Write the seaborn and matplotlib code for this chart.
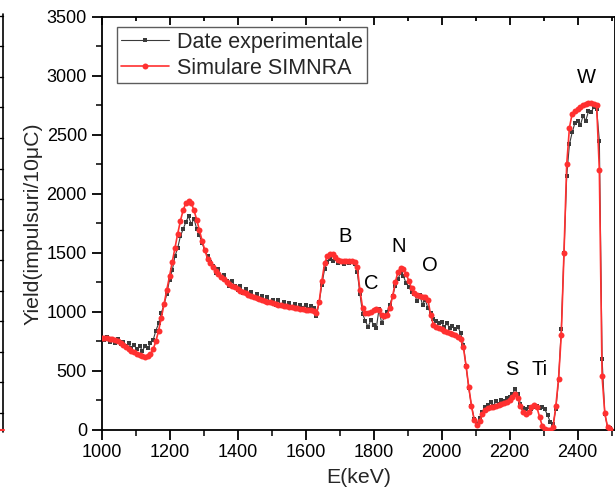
import numpy as np
import pandas as pd
import seaborn as sns
import matplotlib
matplotlib.use("Agg")
import matplotlib.pyplot as plt
from matplotlib.lines import Line2D
from matplotlib.ticker import MultipleLocator

# RBS spectrum: channel energies (keV) start at 1000 with an 8 keV step
E_START = 1000
E_STEP = 8

# Measured yield (counts / 10 uC)
experimental = [
    775, 760, 785, 740, 765, 735, 770, 725, 745, 705,
    730, 690, 715, 680, 710, 670, 705, 690, 730, 760,
    840, 900, 990, 1060, 1150, 1270, 1350, 1470, 1540, 1640,
    1700, 1760, 1810, 1740, 1790, 1700, 1650, 1580, 1520, 1470,
    1420, 1390, 1330, 1360, 1290, 1310, 1260, 1215, 1260, 1215,
    1180, 1220, 1160, 1190, 1140, 1170, 1120, 1150, 1105, 1135,
    1090, 1120, 1075, 1100, 1060, 1095, 1055, 1080, 1045, 1075,
    1040, 1065, 1030, 1060, 1035, 1060, 1020, 1050, 1030, 960,
    1080, 1230, 1360, 1420, 1445, 1430, 1450, 1410, 1430, 1400,
    1425, 1410, 1420, 1400, 1340, 1150, 980, 920, 870, 930,
    890, 860, 1020, 900, 960, 1000, 1060, 1130, 1220, 1280,
    1330, 1300, 1240, 1210, 1170, 1150, 1090, 1140, 1060, 1100,
    1030, 990, 940, 920, 900, 910, 870, 900, 860, 880,
    850, 870, 820, 720, 540, 350, 200, 90, 45, 100,
    150, 190, 210, 230, 200, 240, 220, 250, 240, 270,
    280, 300, 340, 300, 220, 180, 170, 190, 175, 195,
    200, 185, 190, 170, 120, 60, 50, 170, 420, 850,
    1500, 2150, 2420, 2520, 2600, 2620, 2580, 2660, 2620, 2700,
    2690, 2740, 2720, 2450, 600, 130, 25, 10,
]

# SIMNRA simulated yield
simulated = [
    780, 778, 775, 770, 765, 758, 748, 735, 720, 703,
    687, 670, 655, 641, 630, 622, 618, 622, 640, 680,
    750, 840, 950, 1065, 1185, 1300, 1420, 1540, 1660, 1770,
    1860, 1920, 1940, 1920, 1860, 1780, 1690, 1600, 1520, 1450,
    1410, 1375, 1345, 1318, 1295, 1275, 1255, 1237, 1220, 1205,
    1190, 1177, 1165, 1154, 1144, 1134, 1125, 1116, 1108, 1100,
    1092, 1085, 1078, 1072, 1066, 1060, 1055, 1050, 1045, 1040,
    1036, 1032, 1028, 1024, 1020, 1016, 1013, 1010, 1003, 990,
    1080, 1260, 1410, 1470, 1490, 1490, 1465, 1440, 1430, 1428,
    1430, 1432, 1432, 1425, 1380, 1180, 1030, 990, 985, 995,
    1010, 1025, 1010, 975, 960, 975, 1030, 1130, 1250, 1340,
    1370, 1360, 1320, 1260, 1200, 1160, 1140, 1130, 1125, 1120,
    1100, 970, 890, 870, 860, 850, 840, 830, 820, 810,
    800, 785, 765, 700, 540, 360, 200, 80, 35, 70,
    130, 165, 180, 190, 195, 200, 210, 215, 225, 235,
    250, 275, 300, 270, 200, 150, 135, 150, 190, 210,
    190, 110, 30, 5, 0, 0, 20, 200, 430, 800,
    1500, 2250, 2560, 2680, 2700, 2720, 2735, 2750, 2760, 2770,
    2770, 2765, 2750, 2200, 450, 140, 20, 8,
]

# Element edges labelled on the spectrum
element_labels = ["B", "C", "N", "O", "S", "Ti", "W"]
element_x = [1715, 1792, 1874, 1965, 2206, 2288, 2427]
element_y = [1640, 1235, 1555, 1395, 505, 505, 2985]

energy = E_START + E_STEP * np.arange(len(experimental))
df = pd.DataFrame({"E": energy, "exp": experimental, "sim": simulated})

sns.set_theme(style="ticks")
plt.rcParams["font.family"] = ["Liberation Sans", "DejaVu Sans"]

fig = plt.figure(figsize=(6.15, 4.94), dpi=100)
ax_h_px = 429.5 - 17
ax = fig.add_axes([101.5 / 615, 1 - 429.5 / 494, 1 - 101.5 / 615, ax_h_px / 494])

sns.lineplot(data=df, x="E", y="exp", ax=ax, color="#3a3a3a", lw=0.8,
             marker="s", markersize=3.0, markeredgewidth=0,
             label="Date experimentale", zorder=2)
sns.lineplot(data=df, x="E", y="sim", ax=ax, color="#ff3030", lw=1.2,
             marker="o", markersize=4.3, markeredgewidth=0,
             label="Simulare SIMNRA", zorder=3)

for lab, xv, yv in zip(element_labels, element_x, element_y):
    ax.text(xv, yv, lab, fontsize=14.5, ha="center", va="center", color="black")

ax.set_xlim(1000, 2510)
ax.set_ylim(0, 3500)
ax.xaxis.set_major_locator(MultipleLocator(200))
ax.xaxis.set_minor_locator(MultipleLocator(100))
ax.yaxis.set_major_locator(MultipleLocator(500))
ax.yaxis.set_minor_locator(MultipleLocator(250))

ax.set_xlabel("E(keV)", fontsize=15.3, labelpad=5)
ax.set_ylabel("Yield(impulsuri/10μC)", fontsize=15.3, labelpad=3)

for s in ax.spines.values():
    s.set_linewidth(1.3)
    s.set_color("black")
ax.tick_params(axis="both", which="major", direction="out", length=7, width=1.3,
               labelsize=13, colors="black")
ax.tick_params(axis="both", which="minor", direction="out", length=4, width=1.3)

# Inward tick marks along the top edge, at the same locator positions
xt = ax.get_xaxis_transform()
lo, hi = ax.get_xlim()
major_locs = [v for v in ax.xaxis.get_majorticklocs() if lo <= v <= hi]
minor_locs = [v for v in ax.xaxis.get_minorticklocs() if lo <= v <= hi]
ax.vlines(major_locs, 1 - 8 / ax_h_px, 1, transform=xt, colors="black",
          lw=1.3, clip_on=False, zorder=5)
ax.vlines(minor_locs, 1 - 4.5 / ax_h_px, 1, transform=xt, colors="black",
          lw=1.3, clip_on=False, zorder=5)

leg = ax.legend(loc="upper left", bbox_to_anchor=(0.03, 0.975), borderaxespad=0,
                fontsize=15.5, frameon=True, fancybox=False, handlelength=2.2,
                handletextpad=0.4, borderpad=0.2, labelspacing=0.25)
leg.get_frame().set_edgecolor("#333333")
leg.get_frame().set_linewidth(1.0)

# Edge of the neighbouring panel on the left
fig.add_artist(Line2D([3 / 615, 3 / 615], [1 - 14 / 494, 1 - 432 / 494],
                      transform=fig.transFigure, color="black", lw=1.2))
for k in range(14):
    yy = 1 - (16 + 30.5 * k) / 494
    fig.add_artist(Line2D([0, 3 / 615], [yy, yy], transform=fig.transFigure,
                          color="black", lw=1.0))
fig.add_artist(Line2D([0, 4 / 615], [1 - 430 / 494, 1 - 430 / 494],
                      transform=fig.transFigure, color="#ff3030", lw=1.5))

fig.savefig("out.png", dpi=100)
